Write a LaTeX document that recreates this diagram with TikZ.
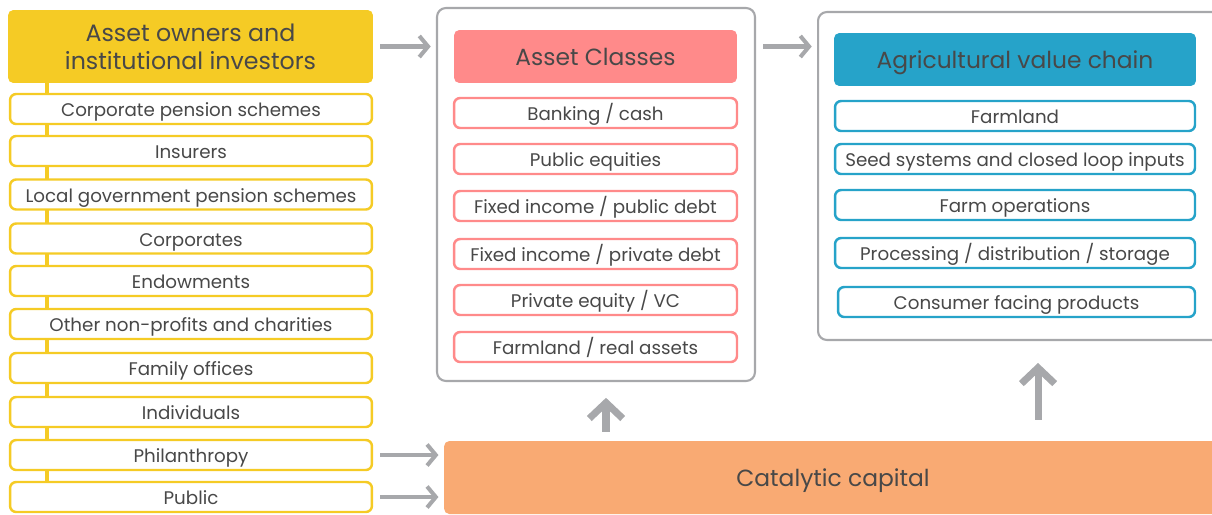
\documentclass[tikz,border=0pt]{standalone}
\usepackage{fontspec}
\setmainfont{Poppins}
\usetikzlibrary{arrows.meta,positioning}
\definecolor{ink}{HTML}{484848}
\definecolor{gold}{HTML}{F5CB25}
\definecolor{salmon}{HTML}{FF8A8A}
\definecolor{teal}{HTML}{26A3C9}
\definecolor{peach}{HTML}{F9AA73}
\definecolor{arrowgray}{HTML}{A7A8AB}

\begin{document}
\begin{tikzpicture}[x=0.02cm,y=-0.02cm,
	every node/.style={text=ink,inner sep=0pt},
	head/.style={rounded corners=3pt,minimum width=7.3cm,minimum height=1.06cm,align=center,font=\fontsize{13.3}{16}\selectfont},
	bar/.style={head,text height=10pt,text depth=0pt},
	item/.style={draw,line width=1.4pt,fill=white,rounded corners=3.5pt,minimum height=0.6cm,text height=9pt,text depth=0.4pt,font=\fontsize{10.4}{12}\selectfont},
	owner/.style={item,draw=gold,minimum width=7.24cm},
	asset/.style={item,draw=salmon,minimum width=5.66cm},
	stage/.style={item,draw=teal,minimum width=7.2cm},
	panel/.style={draw=arrowgray,line width=1.2pt,rounded corners=5pt},
	flow/.style={color=arrowgray,line width=2.3pt,-{Straight Barb[length=5pt,width=12pt]}},
	lift/.style={color=arrowgray,line width=4pt,-{Straight Barb[length=9pt,width=19pt]}}]
	\useasboundingbox (0,0) rectangle (1212,514);

	% containers
	\node[panel,minimum width=6.36cm,minimum height=7.46cm] (classes) at (596,194.5) {};
	\node[panel,minimum width=8.24cm,minimum height=6.56cm] (chain) at (1024,176) {};

	% investors
	\coordinate (spine) at (47,0);
	\coordinate (spineend) at (47,490);
	\node[head,fill=gold,minimum height=1.46cm,font=\fontsize{13.5}{16}\selectfont] (owners) at (190.5,46.5) {Asset owners and\\institutional investors};
	\draw[gold,line width=2.8pt] (owners.south -| spine) -- (spineend);
	\node[owner] (cps) at (191,109) {Corporate pension schemes};
	\node[owner] (ins) at (191,151) {Insurers};
	\node[owner] (lgps) at (191,194.5) {Local government pension schemes};
	\node[owner] (corp) at (191,238.5) {Corporates};
	\node[owner] (endow) at (191,281) {Endowments};
	\node[owner] (npo) at (191,324) {Other non-profits and charities};
	\node[owner] (famoff) at (191,368) {Family offices};
	\node[owner] (indiv) at (191,412) {Individuals};
	\node[owner] (phil) at (191,455) {Philanthropy};
	\node[owner] (pub) at (191,497) {Public};

	% asset classes
	\node[bar,fill=salmon,minimum width=5.66cm] (classhead) at (595.5,56.5) {Asset Classes};
	\node[asset] (cash) at (595.5,113) {Banking / cash};
	\node[asset] (equity) at (595.5,159) {Public equities};
	\node[asset] (pubdebt) at (595.5,206) {Fixed income / public debt};
	\node[asset] (privdebt) at (595.5,254) {Fixed income / private debt};
	\node[asset] (pe) at (595.5,300) {Private equity / VC};
	\node[asset] (realasset) at (595.5,347) {Farmland / real assets};

	% value chain
	\node[bar,fill=teal,minimum width=7.24cm] (chainhead) at (1015,59.5) {Agricultural value chain};
	\node[stage] (farm) at (1015,116) {Farmland};
	\node[stage] (seed) at (1015,159) {Seed systems and closed loop inputs};
	\node[stage] (ops) at (1015,205) {Farm operations};
	\node[stage] (proc) at (1015,253) {Processing / distribution / storage};
	\node[stage,minimum width=7.14cm] (cons) at (1016.5,302) {Consumer facing products};

	% catalytic capital
	\node[bar,fill=peach,minimum width=15.56cm,minimum height=1.46cm] (cat) at (833,477.5) {Catalytic capital};

	\coordinate (liftA) at (606,0);
	\coordinate (liftB) at (1038,0);
	\path[flow,shorten <=4pt,shorten >=3pt] (owners.east) edge (owners.east -| classes.west)
		(classes.east |- owners.east) edge (owners.east -| chain.west)
		(phil.east) edge (phil.east -| cat.west)
		(pub.east) edge (pub.east -| cat.west);
	\path[lift] (cat.north -| liftA) edge[shorten <=5pt,shorten >=9pt] (classes.south -| liftA)
		(cat.north -| liftB) edge[shorten <=12pt,shorten >=12.5pt] (chain.south -| liftB);
\end{tikzpicture}
\end{document}
